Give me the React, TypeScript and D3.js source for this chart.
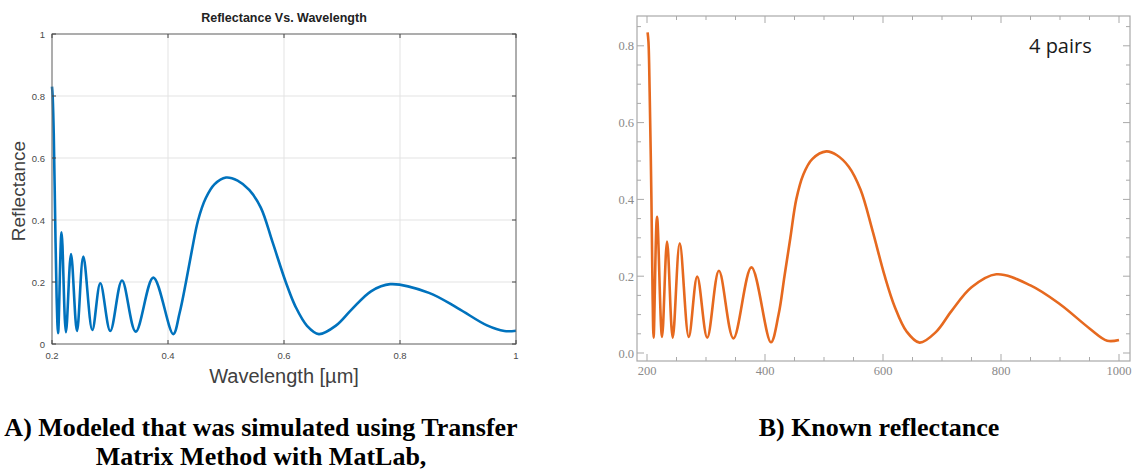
import React, { useEffect, useRef } from "react";
import * as d3 from "d3";

// Panel A: transfer matrix model from MatLab, wavelength in µm
const modelWavelength = [
  0.2, 0.201, 0.203, 0.2055, 0.208, 0.2105, 0.2165, 0.224, 0.2328, 0.2431, 0.254,
  0.2695, 0.2833, 0.3005, 0.3207, 0.3443, 0.3747, 0.409, 0.42, 0.431, 0.441, 0.452,
  0.465, 0.48, 0.5, 0.52, 0.54, 0.56, 0.58, 0.603, 0.62, 0.64, 0.66, 0.69, 0.716, 0.75,
  0.783, 0.85, 0.9, 0.95, 0.98, 1.0,
];
const modelReflectance = [
  0.83, 0.805, 0.68, 0.4, 0.15, 0.035, 0.36, 0.038, 0.29, 0.042, 0.282,
  0.045, 0.196, 0.042, 0.205, 0.04, 0.214, 0.032, 0.1, 0.2, 0.3, 0.4,
  0.47, 0.515, 0.537, 0.527, 0.497, 0.44, 0.33, 0.2, 0.12, 0.058, 0.032, 0.06, 0.11, 0.17,
  0.193, 0.165, 0.115, 0.06, 0.042, 0.043,
];

// Panel B: known reflectance, wavelength in nm
const knownWavelength = [
  201, 202.5, 204.5, 207.5, 209.5, 211.2, 217, 225.5, 234, 243.6, 255.5,
  270.8, 285.1, 302.1, 321.9, 346.4, 377, 410, 423, 433, 443, 453,
  465, 480, 504, 522, 542, 562, 582, 603, 620, 640, 662, 690, 716, 750,
  792, 850, 900, 950, 980, 1000,
];
const knownReflectance = [
  0.835, 0.81, 0.68, 0.4, 0.15, 0.04, 0.355, 0.042, 0.29, 0.04, 0.286,
  0.042, 0.199, 0.04, 0.214, 0.038, 0.223, 0.028, 0.1, 0.2, 0.3, 0.4,
  0.465, 0.505, 0.525, 0.515, 0.485, 0.425, 0.32, 0.2, 0.12, 0.056, 0.027, 0.055, 0.109, 0.171,
  0.205, 0.176, 0.127, 0.064, 0.032, 0.034,
];

const modelXTicks = [0.2, 0.4, 0.6, 0.8, 1];
const modelYTicks = [0, 0.2, 0.4, 0.6, 0.8, 1];
const knownXTicks = [200, 400, 600, 800, 1000];
const knownYTicks = [0, 0.2, 0.4, 0.6, 0.8];
const knownXMinor = d3.range(250, 1000, 50).filter((v) => v % 200 !== 0);
const knownYMinor = [0.05, 0.1, 0.15, 0.25, 0.3, 0.35, 0.45, 0.5, 0.55, 0.65, 0.7, 0.75, 0.85];

const W = 1132;
const H = 473;

const App = () => {
  const svgRef = useRef<SVGSVGElement | null>(null);

  useEffect(() => {
    const svg = d3.select(svgRef.current);
    svg.selectAll("*").remove();
    svg.append("rect").attr("width", W).attr("height", H).attr("fill", "#fff");

    // ---------- Panel A (MatLab style) ----------
    const xA = d3.scaleLinear().domain([0.2, 1]).range([52, 516]);
    const yA = d3.scaleLinear().domain([0, 1]).range([344, 34]);
    const gA = svg.append("g");
    const sans = "'Liberation Sans', Arial, sans-serif";

    // grid
    gA.selectAll(".gx").data(modelXTicks).enter().append("line")
      .attr("x1", (d) => xA(d)).attr("x2", (d) => xA(d))
      .attr("y1", yA(0)).attr("y2", yA(1))
      .attr("stroke", "#e3e3e3").attr("stroke-width", 1);
    gA.selectAll(".gy").data(modelYTicks).enter().append("line")
      .attr("x1", xA(0.2)).attr("x2", xA(1))
      .attr("y1", (d) => yA(d)).attr("y2", (d) => yA(d))
      .attr("stroke", "#e3e3e3").attr("stroke-width", 1);

    // curve
    const lineA = d3.line<number>()
      .x((d, i) => xA(modelWavelength[i]))
      .y((d) => yA(d))
      .curve(d3.curveCatmullRom.alpha(0.5));
    gA.append("path")
      .attr("d", lineA(modelReflectance) as string)
      .attr("fill", "none")
      .attr("stroke", "#0072BD")
      .attr("stroke-width", 2.6)
      .attr("stroke-linejoin", "round");

    // box
    gA.append("rect")
      .attr("x", xA(0.2)).attr("y", yA(1))
      .attr("width", xA(1) - xA(0.2)).attr("height", yA(0) - yA(1))
      .attr("fill", "none").attr("stroke", "#6b6b6b").attr("stroke-width", 1);

    // ticks on all sides, inward
    modelXTicks.forEach((t) => {
      gA.append("line").attr("x1", xA(t)).attr("x2", xA(t)).attr("y1", yA(0)).attr("y2", yA(0) - 4).attr("stroke", "#444");
      gA.append("line").attr("x1", xA(t)).attr("x2", xA(t)).attr("y1", yA(1)).attr("y2", yA(1) + 4).attr("stroke", "#444");
    });
    modelYTicks.forEach((t) => {
      gA.append("line").attr("x1", xA(0.2)).attr("x2", xA(0.2) + 4).attr("y1", yA(t)).attr("y2", yA(t)).attr("stroke", "#444");
      gA.append("line").attr("x1", xA(1)).attr("x2", xA(1) - 4).attr("y1", yA(t)).attr("y2", yA(t)).attr("stroke", "#444");
    });

    const fmtA = d3.format("~g");
    gA.selectAll(".xl").data(modelXTicks).enter().append("text")
      .attr("x", (d) => xA(d)).attr("y", yA(0) + 15)
      .attr("text-anchor", "middle")
      .attr("font-family", sans).attr("font-size", 9.5).attr("fill", "#4a4a4a")
      .text((d) => fmtA(d));
    gA.selectAll(".yl").data(modelYTicks).enter().append("text")
      .attr("x", xA(0.2) - 7).attr("y", (d) => yA(d) + 3.5)
      .attr("text-anchor", "end")
      .attr("font-family", sans).attr("font-size", 9.5).attr("fill", "#4a4a4a")
      .text((d) => fmtA(d));

    gA.append("text")
      .attr("x", (xA(0.2) + xA(1)) / 2).attr("y", 22)
      .attr("text-anchor", "middle")
      .attr("font-family", sans).attr("font-size", 12.5).attr("font-weight", "bold")
      .attr("fill", "#222")
      .text("Reflectance Vs. Wavelength");
    gA.append("text")
      .attr("x", (xA(0.2) + xA(1)) / 2).attr("y", 383)
      .attr("text-anchor", "middle")
      .attr("font-family", sans).attr("font-size", 20).attr("fill", "#404040")
      .text("Wavelength [µm]");
    gA.append("text")
      .attr("transform", `translate(25, ${(yA(0) + yA(1)) / 2 + 2}) rotate(-90)`)
      .attr("text-anchor", "middle")
      .attr("font-family", sans).attr("font-size", 19).attr("fill", "#404040")
      .text("Reflectance");

    // ---------- Panel B (Mathematica style) ----------
    const xB = d3.scaleLinear().domain([200, 1000]).range([647, 1119]);
    const yB = d3.scaleLinear().domain([0, 0.8]).range([353, 45.8]);
    const gB = svg.append("g");
    const frame = { x0: 637, x1: 1130, y0: 16, y1: 361 };
    const serif = "'Liberation Serif', 'Times New Roman', serif";

    const lineB = d3.line<number>()
      .x((d, i) => xB(knownWavelength[i]))
      .y((d) => yB(d))
      .curve(d3.curveCatmullRom.alpha(0.5));
    gB.append("path")
      .attr("d", lineB(knownReflectance) as string)
      .attr("fill", "none")
      .attr("stroke", "#E6691F")
      .attr("stroke-width", 2.6)
      .attr("stroke-linejoin", "round");

    gB.append("rect")
      .attr("x", frame.x0).attr("y", frame.y0)
      .attr("width", frame.x1 - frame.x0).attr("height", frame.y1 - frame.y0)
      .attr("fill", "none").attr("stroke", "#a9a9a9").attr("stroke-width", 1.2);

    const tickB = (x1: number, y1: number, x2: number, y2: number) =>
      gB.append("line").attr("x1", x1).attr("y1", y1).attr("x2", x2).attr("y2", y2)
        .attr("stroke", "#a9a9a9").attr("stroke-width", 1);
    knownXTicks.forEach((t) => {
      tickB(xB(t), frame.y1, xB(t), frame.y1 - 7);
      tickB(xB(t), frame.y0, xB(t), frame.y0 + 7);
    });
    knownXMinor.forEach((t) => {
      tickB(xB(t), frame.y1, xB(t), frame.y1 - 4);
      tickB(xB(t), frame.y0, xB(t), frame.y0 + 4);
    });
    knownYTicks.forEach((t) => {
      tickB(frame.x0, yB(t), frame.x0 + 7, yB(t));
      tickB(frame.x1, yB(t), frame.x1 - 7, yB(t));
    });
    knownYMinor.forEach((t) => {
      tickB(frame.x0, yB(t), frame.x0 + 4, yB(t));
      tickB(frame.x1, yB(t), frame.x1 - 4, yB(t));
    });

    const fmtY = d3.format(".1f");
    gB.selectAll(".xl").data(knownXTicks).enter().append("text")
      .attr("x", (d) => xB(d)).attr("y", frame.y1 + 14)
      .attr("text-anchor", "middle")
      .attr("font-family", serif).attr("font-size", 12.5).attr("fill", "#8a8a8a")
      .text((d) => String(d));
    gB.selectAll(".yl").data(knownYTicks).enter().append("text")
      .attr("x", frame.x0 - 3).attr("y", (d) => yB(d) + 4.5)
      .attr("text-anchor", "end")
      .attr("font-family", serif).attr("font-size", 12.5).attr("fill", "#8a8a8a")
      .text((d) => fmtY(d));

    gB.append("text")
      .attr("x", 1029).attr("y", 53)
      .attr("font-family", "'Open Sans', sans-serif").attr("font-size", 20)
      .attr("fill", "#1a1a1a")
      .text("4 pairs");

    // ---------- captions ----------
    const caption = (x: number, y: number, s: string) =>
      svg.append("text")
        .attr("x", x).attr("y", y)
        .attr("text-anchor", "middle")
        .attr("font-family", serif).attr("font-size", 26).attr("font-weight", "bold")
        .attr("fill", "#000")
        .text(s);
    caption(261, 436, "A) Modeled that was simulated using Transfer");
    caption(261, 465, "Matrix Method with MatLab,");
    caption(879, 436, "B) Known reflectance");
  }, []);

  return (
    <div style={{ position: "absolute", left: 0, top: 0 }}>
      <svg ref={svgRef} width={W} height={H} />
    </div>
  );
};

export default App;
